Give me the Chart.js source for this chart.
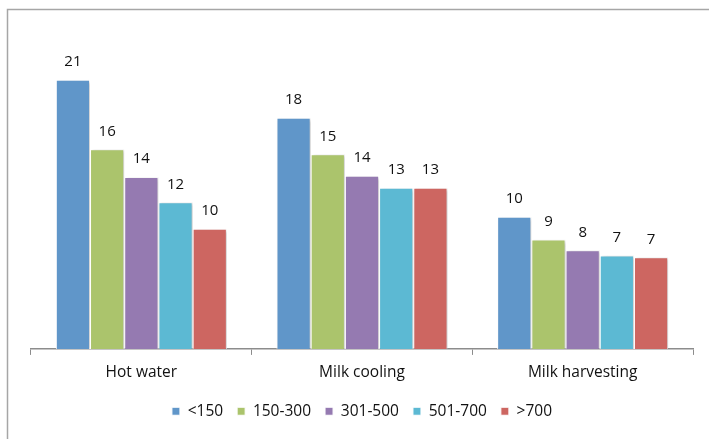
<!DOCTYPE html>
<html>
<head>
<meta charset="utf-8">
<script src="https://cdn.jsdelivr.net/npm/chart.js@4"></script>
<style>
  html,body{margin:0;padding:0;background:#fff;}
  #wrap{width:709px;height:439px;position:relative;}
</style>
</head>
<body>
<div id="wrap"><canvas id="c" width="709" height="439"></canvas></div>
<script>
// categories and series (bar heights, labels shown rounded)
const categories = ['Hot water', 'Milk cooling', 'Milk harvesting'];
const seriesNames = ['<150', '150-300', '301-500', '501-700', '>700'];
const s150 = [21.3, 18.3, 10.45];
const s300 = [15.8, 15.4, 8.65];
const s500 = [13.6, 13.7, 7.8];
const s700 = [11.6, 12.75, 7.4];
const sOver = [9.5, 12.75, 7.25];
const colors = ['#6096C9', '#ABC46C', '#957AB1', '#5CB9D3', '#CD6661'];

const FONT = '"Open Sans", Lato, sans-serif';

// outer frame like the spreadsheet chart area
const framePlugin = {
  id: 'frame',
  beforeDraw(chart){
    const ctx = chart.ctx;
    ctx.save();
    ctx.strokeStyle = '#A6A6A6'; ctx.lineWidth = 1.5;
    ctx.beginPath();
    ctx.moveTo(7.5, 439); ctx.lineTo(7.5, 9.5); ctx.lineTo(709, 9.5);
    ctx.stroke();
    ctx.restore();
  }
};

// soft shadow behind bars
const shadowPlugin = {
  id: 'shadow',
  beforeDatasetsDraw(chart){
    const ctx = chart.ctx;
    ctx.save();
    ctx.shadowColor = 'rgba(0,0,0,0.22)';
    ctx.shadowBlur = 3; ctx.shadowOffsetX = 2; ctx.shadowOffsetY = 1;
  },
  afterDatasetsDraw(chart){ chart.ctx.restore(); }
};

// value labels above bars
const labelPlugin = {
  id: 'vals',
  afterDatasetsDraw(chart){
    const ctx = chart.ctx;
    ctx.save();
    ctx.font = '15px ' + FONT; ctx.fillStyle = '#111';
    ctx.textAlign = 'center'; ctx.textBaseline = 'middle';
    chart.data.datasets.forEach((ds, i)=>{
      chart.getDatasetMeta(i).data.forEach((bar, j)=>{
        ctx.fillText(Math.round(ds.data[j]), bar.x, bar.y - 18);
      });
    });
    ctx.restore();
  }
};

const allSeries = [s150, s300, s500, s700, sOver];
new Chart(document.getElementById('c'), {
  type: 'bar',
  data: {
    labels: categories,
    datasets: allSeries.map((d, i)=>({
      label: seriesNames[i], data: d,
      backgroundColor: colors[i], borderColor: '#ffffff', borderWidth: 1,
      categoryPercentage: 0.775, barPercentage: 1
    }))
  },
  options: {
    responsive: false, animation: false, devicePixelRatio: 1,
    layout: { padding: { left: 31, right: 16, top: 33, bottom: 10 } },
    scales: {
      y: { display: false, min: 0, max: 25 },
      x: {
        grid: { drawOnChartArea: false, drawTicks: true, tickLength: 6, color: '#8C8C8C' },
        border: { display: true, color: '#8C8C8C', width: 1.5 },
        ticks: { color: '#111', font: { family: FONT, size: 15.5 }, padding: 8 }
      }
    },
    plugins: {
      legend: {
        position: 'bottom',
        labels: { boxWidth: 8, boxHeight: 8, color: '#111', font: { family: FONT, size: 15.5 }, padding: 14 }
      },
      tooltip: { enabled: false }
    }
  },
  plugins: [framePlugin, shadowPlugin, labelPlugin]
});
</script>
</body>
</html>
